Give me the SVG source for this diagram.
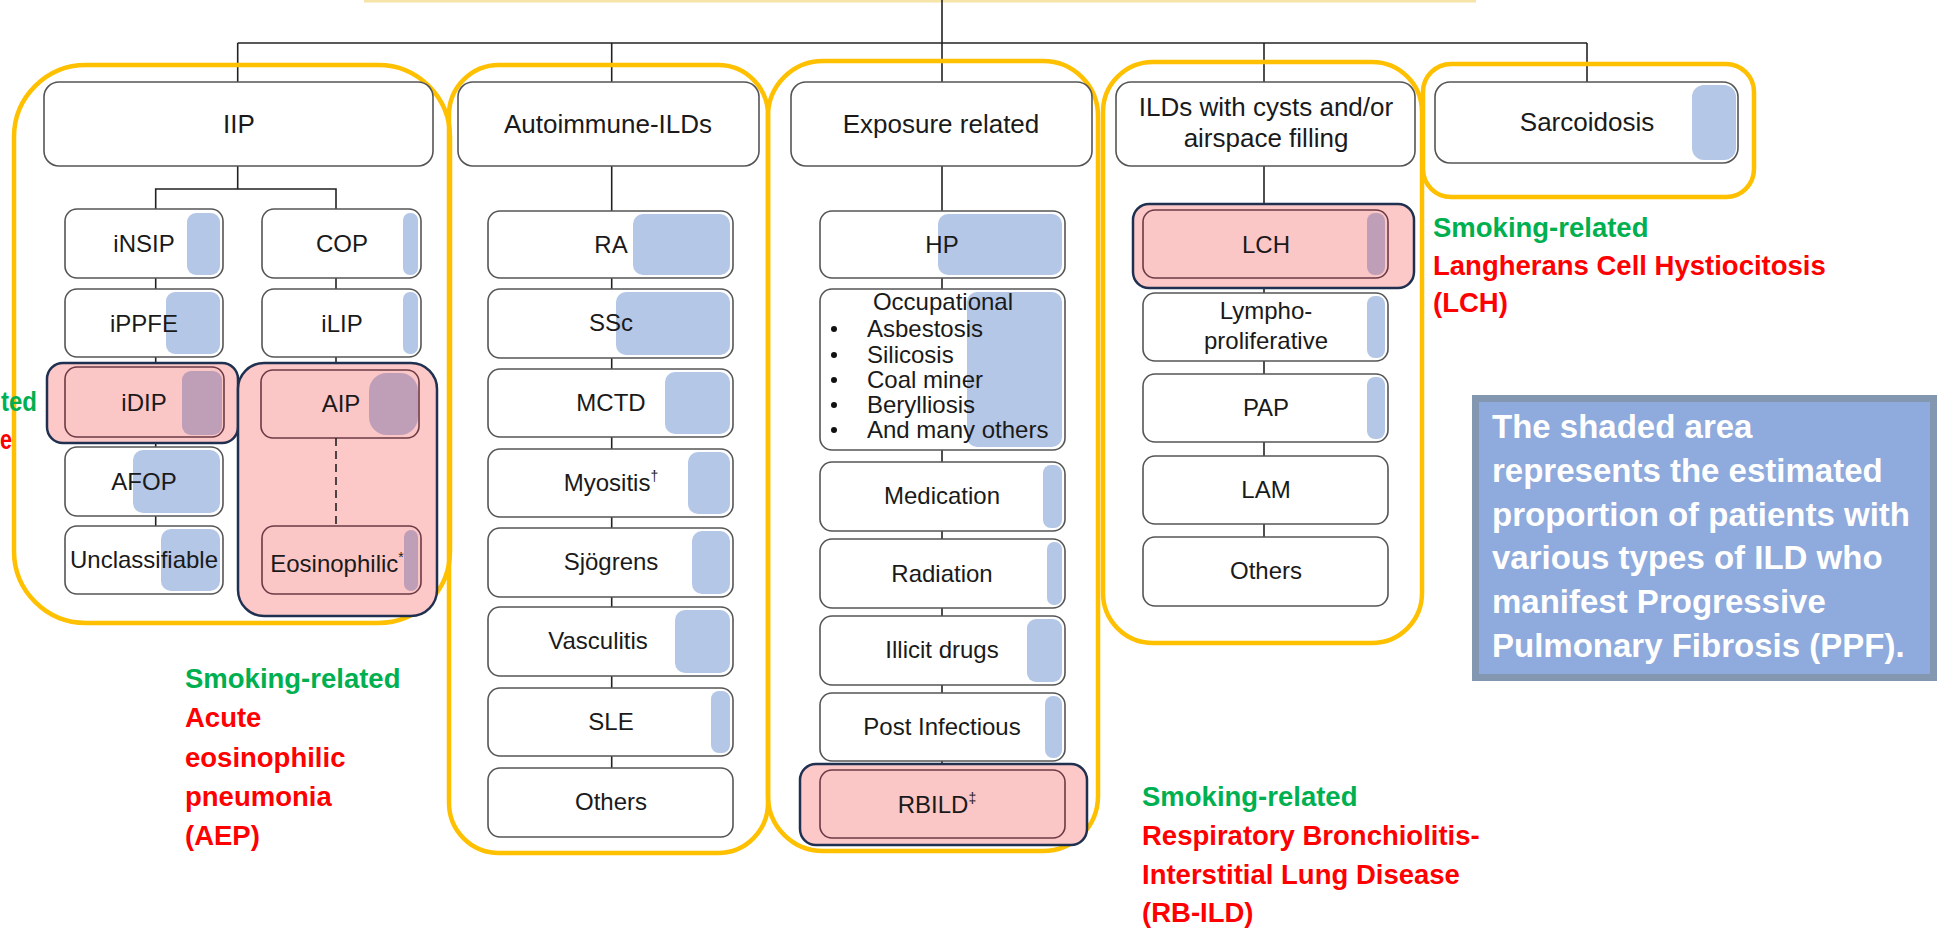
<svg xmlns="http://www.w3.org/2000/svg" width="1937" height="934" viewBox="0 0 1937 934">
<style>
.bx{fill:#fff;stroke:#555;stroke-width:1.6}
.bxp{fill:#fbc6c6;stroke:#6b3a44;stroke-width:1.6}
.sh{fill:#b4c7e7}
.shp{fill:#bf9fb8}
.nv{fill:#fcc8c8;stroke:#1f3050;stroke-width:2.5}
.yl{fill:none;stroke:#ffc000;stroke-width:4.5}
.ln{stroke:#222;stroke-width:1.6;fill:none}
.t{font-family:"Liberation Sans",Arial,sans-serif;font-size:24px;fill:#1a1a1a;text-anchor:middle}
.h{font-size:26px}
.a{font-family:"Liberation Sans",Arial,sans-serif;font-size:27.5px;font-weight:bold}
.g{fill:#00b050}
.r{fill:#ff0000}
.w{font-family:"Liberation Sans",Arial,sans-serif;font-size:33px;font-weight:bold;fill:#fff}
</style>
<rect x="364" y="0" width="1112" height="2.5" fill="#f6e4a8"/>
<g id="connectors">
<line class="ln" x1="942" y1="0" x2="942" y2="43"/>
<line class="ln" x1="237.7" y1="43" x2="1587" y2="43"/>
<line class="ln" x1="237.7" y1="43" x2="237.7" y2="82"/>
<line class="ln" x1="611.7" y1="43" x2="611.7" y2="82"/>
<line class="ln" x1="942" y1="43" x2="942" y2="82"/>
<line class="ln" x1="1264" y1="43" x2="1264" y2="82"/>
<line class="ln" x1="1587" y1="43" x2="1587" y2="82"/>
<polyline class="ln" points="237.7,166 237.7,189"/>
<polyline class="ln" points="155.7,209 155.7,189 336,189 336,209"/>
<line class="ln" x1="155.7" y1="278" x2="155.7" y2="289"/>
<line class="ln" x1="155.7" y1="357" x2="155.7" y2="367"/>
<line class="ln" x1="155.7" y1="437" x2="155.7" y2="447"/>
<line class="ln" x1="155.7" y1="516" x2="155.7" y2="526"/>
<line class="ln" x1="336" y1="278" x2="336" y2="289"/>
<line class="ln" x1="336" y1="357" x2="336" y2="370"/>
<line class="ln" x1="611.7" y1="166" x2="611.7" y2="211"/>
<line class="ln" x1="611.7" y1="278" x2="611.7" y2="289"/>
<line class="ln" x1="611.7" y1="358" x2="611.7" y2="369"/>
<line class="ln" x1="611.7" y1="437" x2="611.7" y2="449"/>
<line class="ln" x1="611.7" y1="517" x2="611.7" y2="528"/>
<line class="ln" x1="611.7" y1="597" x2="611.7" y2="607"/>
<line class="ln" x1="611.7" y1="676" x2="611.7" y2="688"/>
<line class="ln" x1="611.7" y1="756" x2="611.7" y2="768"/>
<line class="ln" x1="942" y1="166" x2="942" y2="211"/>
<line class="ln" x1="942" y1="278" x2="942" y2="289"/>
<line class="ln" x1="942" y1="450" x2="942" y2="462"/>
<line class="ln" x1="942" y1="531" x2="942" y2="539"/>
<line class="ln" x1="942" y1="608" x2="942" y2="616"/>
<line class="ln" x1="942" y1="685" x2="942" y2="693"/>
<line class="ln" x1="942" y1="761" x2="942" y2="770"/>
<line class="ln" x1="1264" y1="166" x2="1264" y2="210"/>
<line class="ln" x1="1264" y1="278" x2="1264" y2="293"/>
<line class="ln" x1="1264" y1="361" x2="1264" y2="374"/>
<line class="ln" x1="1264" y1="442" x2="1264" y2="456"/>
<line class="ln" x1="1264" y1="524" x2="1264" y2="537"/>
</g>
<!-- yellow group outlines -->
<rect class="yl" x="14" y="65" width="436" height="558" rx="72"/>
<rect class="yl" x="449" y="65" width="319" height="788" rx="50"/>
<rect class="yl" x="768" y="61" width="330" height="790" rx="55"/>
<rect class="yl" x="1103" y="62" width="319" height="581" rx="50"/>
<rect class="yl" x="1423" y="64" width="331" height="133" rx="28"/>

<g id="n-iip"><rect class="bx" x="44" y="82" width="389" height="84" rx="15"/><text class="t h" x="239" y="133">IIP</text></g>
<g id="n-insip"><rect class="bx" x="65" y="209" width="158" height="69" rx="12"/><rect class="sh" x="187" y="213" width="33" height="62" rx="9"/><text class="t" x="144" y="252">iNSIP</text></g>
<g id="n-cop"><rect class="bx" x="262" y="209" width="159" height="69" rx="12"/><rect class="sh" x="403" y="213" width="15" height="62" rx="7"/><text class="t" x="342" y="252">COP</text></g>
<g id="n-ippfe"><rect class="bx" x="65" y="289" width="158" height="68" rx="12"/><rect class="sh" x="166" y="292" width="54" height="62" rx="9"/><text class="t" x="144" y="332">iPPFE</text></g>
<g id="n-ilip"><rect class="bx" x="262" y="289" width="159" height="68" rx="12"/><rect class="sh" x="403" y="292" width="15" height="62" rx="7"/><text class="t" x="342" y="332">iLIP</text></g>
<g id="n-idip"><rect class="nv" x="47" y="363" width="191" height="80" rx="16"/><rect class="bxp" x="65" y="367" width="159" height="70" rx="12"/><rect class="shp" x="182" y="371" width="40" height="64" rx="9"/><text class="t" x="144" y="411">iDIP</text></g>
<g id="n-afop"><rect class="bx" x="65" y="447" width="158" height="69" rx="12"/><rect class="sh" x="133" y="450" width="87" height="63" rx="10"/><text class="t" x="144" y="490">AFOP</text></g>
<g id="n-unclass"><rect class="bx" x="65" y="526" width="158" height="68" rx="12"/><rect class="sh" x="161" y="529" width="59" height="62" rx="10"/><text class="t" x="144" y="568">Unclassifiable</text></g>
<g id="n-aip-group"><rect class="nv" x="238" y="363" width="199" height="253" rx="26"/></g>
<g id="n-aip"><rect class="bxp" x="261" y="370" width="158" height="68" rx="12"/><rect class="shp" x="369" y="373" width="49" height="62" rx="18"/><text class="t" x="341" y="412">AIP</text></g>
<line class="ln" x1="336" y1="438" x2="336" y2="526" stroke-dasharray="8,5"/>
<g id="n-eos"><rect class="bxp" x="262" y="526" width="159" height="68" rx="12"/><rect class="shp" x="404" y="530" width="14" height="61" rx="7"/><text class="t" x="337" y="572">Eosinophilic<tspan font-size="14" dy="-10">*</tspan></text></g>

<g id="n-auto"><rect class="bx" x="458" y="82" width="301" height="84" rx="15"/><text class="t h" x="608" y="133">Autoimmune-ILDs</text></g>
<g id="n-ra"><rect class="bx" x="488" y="211" width="245" height="67" rx="12"/><rect class="sh" x="633" y="214" width="97" height="61" rx="10"/><text class="t" x="611" y="253">RA</text></g>
<g id="n-ssc"><rect class="bx" x="488" y="289" width="245" height="69" rx="12"/><rect class="sh" x="616" y="292" width="114" height="63" rx="10"/><text class="t" x="611" y="331">SSc</text></g>
<g id="n-mctd"><rect class="bx" x="488" y="369" width="245" height="68" rx="12"/><rect class="sh" x="665" y="372" width="65" height="62" rx="10"/><text class="t" x="611" y="411">MCTD</text></g>
<g id="n-myo"><rect class="bx" x="488" y="449" width="245" height="68" rx="12"/><rect class="sh" x="688" y="452" width="42" height="62" rx="10"/><text class="t" x="611" y="491">Myositis<tspan font-size="14" dy="-10">†</tspan></text></g>
<g id="n-sjo"><rect class="bx" x="488" y="528" width="245" height="69" rx="12"/><rect class="sh" x="692" y="531" width="38" height="63" rx="10"/><text class="t" x="611" y="570">Sjögrens</text></g>
<g id="n-vasc"><rect class="bx" x="488" y="607" width="245" height="69" rx="12"/><rect class="sh" x="675" y="610" width="55" height="63" rx="10"/><text class="t" x="598" y="649">Vasculitis</text></g>
<g id="n-sle"><rect class="bx" x="488" y="688" width="245" height="68" rx="12"/><rect class="sh" x="711" y="691" width="19" height="62" rx="8"/><text class="t" x="611" y="730">SLE</text></g>
<g id="n-oth1"><rect class="bx" x="488" y="768" width="245" height="69" rx="12"/><text class="t" x="611" y="810">Others</text></g>

<g id="n-expo"><rect class="bx" x="791" y="82" width="301" height="84" rx="15"/><text class="t h" x="941" y="133">Exposure related</text></g>
<g id="n-hp"><rect class="bx" x="820" y="211" width="245" height="67" rx="12"/><rect class="sh" x="938" y="214" width="124" height="61" rx="10"/><text class="t" x="942" y="253">HP</text></g>
<g id="n-occ"><rect class="bx" x="820" y="289" width="245" height="161" rx="12"/><rect class="sh" x="967" y="292" width="95" height="155" rx="10"/>
<text class="t" x="943" y="310">Occupational</text>
<circle cx="834" cy="329" r="3" fill="#111"/><text x="867" y="337" style="text-anchor:start" class="t">Asbestosis</text>
<circle cx="834" cy="355" r="3" fill="#111"/><text x="867" y="363" style="text-anchor:start" class="t">Silicosis</text>
<circle cx="834" cy="380" r="3" fill="#111"/><text x="867" y="388" style="text-anchor:start" class="t">Coal miner</text>
<circle cx="834" cy="405" r="3" fill="#111"/><text x="867" y="413" style="text-anchor:start" class="t">Berylliosis</text>
<circle cx="834" cy="430" r="3" fill="#111"/><text x="867" y="438" style="text-anchor:start" class="t">And many others</text>
</g>
<g id="n-med"><rect class="bx" x="820" y="462" width="245" height="69" rx="12"/><rect class="sh" x="1043" y="465" width="19" height="63" rx="8"/><text class="t" x="942" y="504">Medication</text></g>
<g id="n-rad"><rect class="bx" x="820" y="539" width="245" height="69" rx="12"/><rect class="sh" x="1047" y="542" width="15" height="63" rx="7"/><text class="t" x="942" y="582">Radiation</text></g>
<g id="n-illicit"><rect class="bx" x="820" y="616" width="245" height="69" rx="12"/><rect class="sh" x="1027" y="619" width="35" height="63" rx="9"/><text class="t" x="942" y="658">Illicit drugs</text></g>
<g id="n-post"><rect class="bx" x="820" y="693" width="245" height="68" rx="12"/><rect class="sh" x="1045" y="696" width="17" height="62" rx="8"/><text class="t" x="942" y="735">Post Infectious</text></g>
<g id="n-rbild"><rect class="nv" x="800" y="764" width="287" height="81" rx="16"/><rect class="bxp" x="820" y="770" width="245" height="68" rx="12"/><text class="t" x="937" y="813">RBILD<tspan font-size="14" dy="-10">‡</tspan></text></g>

<g id="n-cysts"><rect class="bx" x="1116" y="82" width="299" height="84" rx="15"/><text class="t h" x="1266" y="116">ILDs with cysts and/or</text><text class="t h" x="1266" y="147">airspace filling</text></g>
<g id="n-lch"><rect class="nv" x="1133" y="204" width="281" height="84" rx="16"/><rect class="bxp" x="1143" y="210" width="245" height="68" rx="12"/><rect class="shp" x="1367" y="213" width="18" height="62" rx="8"/><text class="t" x="1266" y="253">LCH</text></g>
<g id="n-lympho"><rect class="bx" x="1143" y="293" width="245" height="68" rx="12"/><rect class="sh" x="1367" y="296" width="18" height="62" rx="8"/><text class="t" x="1266" y="319">Lympho-</text><text class="t" x="1266" y="349">proliferative</text></g>
<g id="n-pap"><rect class="bx" x="1143" y="374" width="245" height="68" rx="12"/><rect class="sh" x="1367" y="377" width="18" height="62" rx="8"/><text class="t" x="1266" y="416">PAP</text></g>
<g id="n-lam"><rect class="bx" x="1143" y="456" width="245" height="68" rx="12"/><text class="t" x="1266" y="498">LAM</text></g>
<g id="n-oth2"><rect class="bx" x="1143" y="537" width="245" height="69" rx="12"/><text class="t" x="1266" y="579">Others</text></g>

<g id="n-sarc"><rect class="bx" x="1435" y="82" width="303" height="81" rx="15"/><rect class="sh" x="1692" y="85" width="44" height="75" rx="12"/><text class="t h" x="1587" y="131">Sarcoidosis</text></g>

<g id="ann-left"><text class="a g" x="1" y="411" textLength="36" lengthAdjust="spacingAndGlyphs">ted</text><text class="a r" x="0" y="449" textLength="12" lengthAdjust="spacingAndGlyphs">e</text></g>
<g id="ann-aep">
<text class="a g" x="185" y="688">Smoking-related</text>
<text class="a r" x="185" y="727">Acute</text>
<text class="a r" x="185" y="767">eosinophilic</text>
<text class="a r" x="185" y="806">pneumonia</text>
<text class="a r" x="185" y="845">(AEP)</text>
</g>
<g id="ann-rbild">
<text class="a g" x="1142" y="806">Smoking-related</text>
<text class="a r" x="1142" y="845">Respiratory Bronchiolitis-</text>
<text class="a r" x="1142" y="884">Interstitial Lung Disease</text>
<text class="a r" x="1142" y="922">(RB-ILD)</text>
</g>
<g id="ann-lch">
<text class="a g" x="1433" y="237">Smoking-related</text>
<text class="a r" x="1433" y="275">Langherans Cell Hystiocitosis</text>
<text class="a r" x="1433" y="312">(LCH)</text>
</g>
<g id="note">
<rect x="1475.5" y="398.5" width="458" height="279" fill="#8faadc" stroke="#8497b0" stroke-width="7"/>
<text class="w" x="1492" y="438">The shaded area</text>
<text class="w" x="1492" y="482">represents the estimated</text>
<text class="w" x="1492" y="526">proportion of patients with</text>
<text class="w" x="1492" y="569">various types of ILD who</text>
<text class="w" x="1492" y="613">manifest Progressive</text>
<text class="w" x="1492" y="657">Pulmonary Fibrosis (PPF).</text>
</g>
</svg>
